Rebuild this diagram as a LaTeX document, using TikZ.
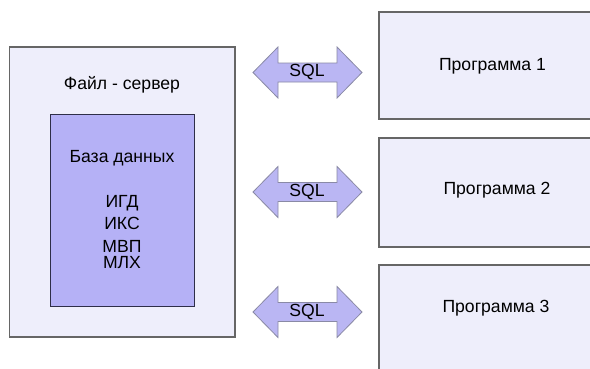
\documentclass[tikz,border=0pt]{standalone}
\usepackage{fontspec}
\setmainfont{Liberation Sans}
\definecolor{boxfill}{HTML}{EEEEFB}
\definecolor{dbfill}{HTML}{B5B1F6}
\definecolor{arrfill}{HTML}{BAB6F3}
\definecolor{boxline}{HTML}{666666}
\definecolor{dbline}{HTML}{2E2E48}
\definecolor{arrline}{HTML}{8A8AA6}
\tikzset{
  lbl/.style={font=\fontsize{17.6}{20}\selectfont, text=black, inner sep=0pt, anchor=center},
  outerbox/.style={draw=boxline, line width=1.2pt, fill=boxfill},
  dbbox/.style={draw=dbline, line width=1pt, fill=dbfill},
  arr/.style={draw=arrline, line width=0.8pt, fill=arrfill, line join=miter},
}
\newcommand{\dblarrow}[2]{%
  % #1 = center y, #2 = name
  \draw[arr] (253,#1) -- (278,#1-25.5) -- (278,#1-9.5) -- (337,#1-9.5) -- (337,#1-25.5)
    -- (362,#1) -- (337,#1+25.5) -- (337,#1+9.5) -- (278,#1+9.5) -- (278,#1+25.5) -- cycle;
  \node[lbl] (#2) at (307,#1) {SQL};
}
\begin{document}
\begin{tikzpicture}[x=1pt,y=-1pt]
\useasboundingbox (0,0) rectangle (590,368);
\clip (0,0) rectangle (590,368);
\fill[white] (0,0) rectangle (590,368);
% file server
\draw[outerbox] (9.5,47) rectangle (235,337);
\node[lbl] (fs) at (122,85) {Файл - сервер};
\draw[dbbox] (50,114) rectangle (194,306);
\node[lbl] (db) at (122,158) {База данных};
\node[lbl] (d1) at (122,203) {ИГД};
\node[lbl] (d2) at (122,223) {ИКС};
\node[lbl] (d3) at (122,246) {МВП};
\node[lbl] (d4) at (122,263) {МЛХ};
% programs
\draw[outerbox] (379,12) rectangle (595,119);
\node[lbl] (p1) at (492.5,66) {Программа 1};
\draw[outerbox] (379,138) rectangle (595,247);
\node[lbl] (p2) at (497,190) {Программа 2};
\draw[outerbox] (379,265) rectangle (595,380);
\node[lbl] (p3) at (496,308) {Программа 3};
% arrows
\dblarrow{72.5}{s1}
\dblarrow{192}{s2}
\dblarrow{312}{s3}
\end{tikzpicture}
\end{document}
